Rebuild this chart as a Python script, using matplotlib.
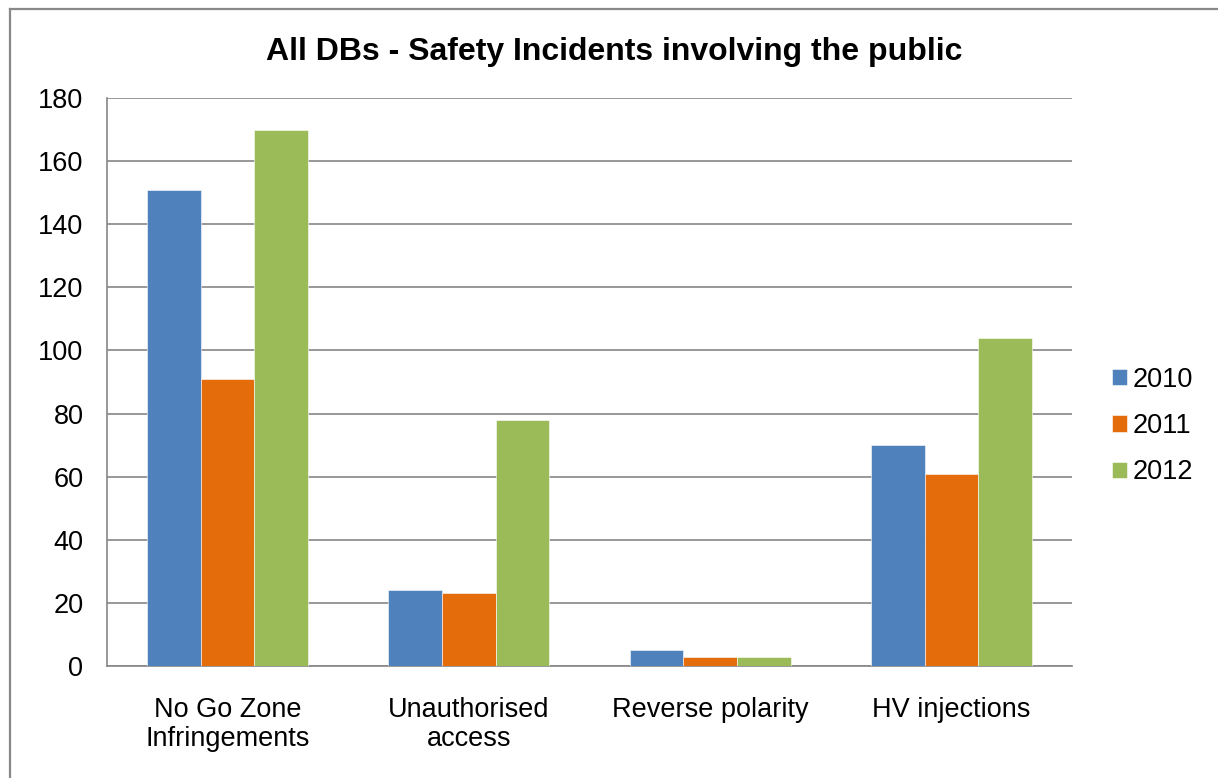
import matplotlib
matplotlib.use("Agg")
import matplotlib.pyplot as plt
import numpy as np
from matplotlib.lines import Line2D

plt.rcParams['font.family'] = ['Liberation Sans', 'DejaVu Sans']

categories = ["No Go Zone\nInfringements", "Unauthorised\naccess", "Reverse polarity", "HV injections"]
years = ["2010", "2011", "2012"]
values_2010 = [151, 24, 5, 70]
values_2011 = [91, 23, 3, 61]
values_2012 = [170, 78, 3, 104]
colors = ["#4F81BD", "#E46C0A", "#9BBB59"]
y_ticks = [0, 20, 40, 60, 80, 100, 120, 140, 160, 180]

W, H = 1218, 778
fig = plt.figure(figsize=(W / 100, H / 100), dpi=100)
ax = fig.add_axes([107 / W, 1 - 666 / H, (1072 - 107) / W, (666 - 98) / H])

x = np.arange(len(categories))
bar_w = 1 / 4.5
series = [values_2010, values_2011, values_2012]
for i, (vals, year, col) in enumerate(zip(series, years, colors)):
    ax.bar(x + (i - 1) * bar_w, vals, width=bar_w, color=col, label=year,
           edgecolor="white", linewidth=0.4, zorder=3)

ax.set_xlim(-0.5, len(categories) - 0.5)
ax.set_ylim(0, 180)
ax.set_yticks(y_ticks)
ax.set_yticklabels([str(t) for t in y_ticks], fontsize=19.5)
ax.set_xticks(x)
ax.set_xticklabels(categories, fontsize=19.5, linespacing=1.18)
ax.tick_params(axis="y", length=0, pad=17)
ax.tick_params(axis="x", length=0, pad=22)
ax.yaxis.grid(True, color="#868686", linewidth=1.2, zorder=0)
ax.set_axisbelow(True)
for s in ["top", "right"]:
    ax.spines[s].set_visible(False)
for s in ["left", "bottom"]:
    ax.spines[s].set_color("#868686")
    ax.spines[s].set_linewidth(1.2)

fig.text(614 / W, 1 - 52 / H, "All DBs - Safety Incidents involving the public",
         ha="center", va="center", fontsize=23, fontweight="bold")

leg = ax.legend(loc="center left", bbox_to_anchor=(1112 / W, 1 - 426 / H),
                bbox_transform=fig.transFigure, frameon=False, fontsize=19.5,
                handlelength=0.55, handleheight=0.55, handletextpad=0.2,
                labelspacing=0.75, borderaxespad=0, borderpad=0)

# Outer chart border (left and top edges)
fig.add_artist(Line2D([9.5 / W, 9.5 / W], [0, 1 - 8.5 / H], transform=fig.transFigure,
                      color="#888888", linewidth=1.6))
fig.add_artist(Line2D([9.5 / W, 1], [1 - 8.5 / H, 1 - 8.5 / H], transform=fig.transFigure,
                      color="#888888", linewidth=1.6))

fig.savefig("out.png", dpi=100, facecolor="white")
